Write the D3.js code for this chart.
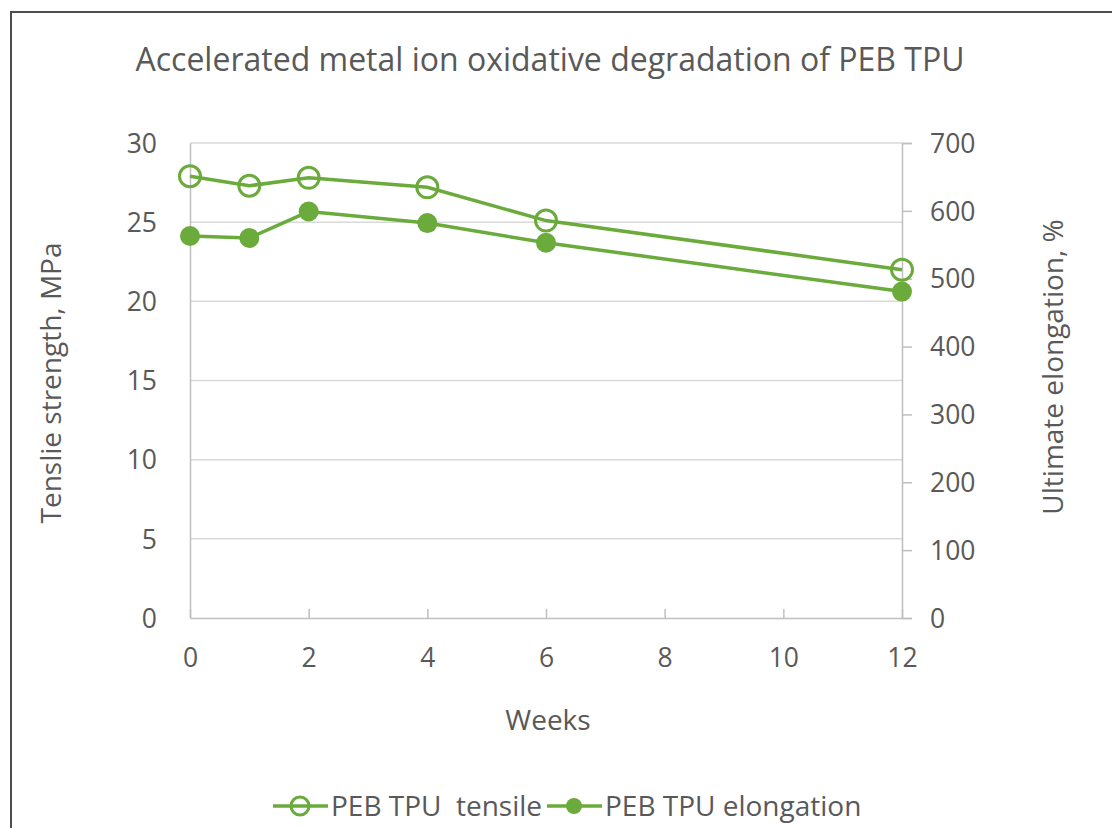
<!DOCTYPE html>
<html>
<head>
<meta charset="utf-8">
<script src="https://cdn.jsdelivr.net/npm/d3@7"></script>
<style>
  html, body { margin: 0; padding: 0; background: #ffffff; }
  svg { display: block; }
  text { font-family: "Open Sans", "Noto Sans", sans-serif; fill: #595959; }
</style>
</head>
<body>
<svg id="chart" width="1112" height="828"></svg>
<script>
// Weeks of exposure and measured properties
const weeks = [0, 1, 2, 4, 6, 12];
const tensile = [27.9, 27.3, 27.8, 27.2, 25.1, 22.0];      // MPa
const elongation = [563, 560, 599, 582, 553, 481];         // %

const xTicks = [0, 2, 4, 6, 8, 10, 12];
const leftTicks = [0, 5, 10, 15, 20, 25, 30];
const rightTicks = [0, 100, 200, 300, 400, 500, 600, 700];

const seriesNames = ["PEB TPU  tensile", "PEB TPU elongation"];
const titleText = "Accelerated metal ion oxidative degradation of PEB TPU";
const xTitle = "Weeks";
const yLeftTitle = "Tenslie strength, MPa";
const yRightTitle = "Ultimate elongation, %";

const green = "#6aab3c";
const gridColor = "#d9d9d9";
const axisColor = "#bfbfbf";
const tickFont = "26.5px";
const labelFont = "28px";

const svg = d3.select("#chart");

// chart frame
svg.append("rect")
  .attr("x", 11).attr("y", 12)
  .attr("width", 1200).attr("height", 900)
  .attr("fill", "#ffffff")
  .attr("stroke", "#4d4d4d").attr("stroke-width", 2);

const plot = { left: 190, right: 902, top: 143, bottom: 618 };

const x = d3.scaleLinear().domain([0, 12]).range([plot.left, plot.right]);
const yL = d3.scaleLinear().domain([0, 30]).range([plot.bottom, plot.top]);
const yR = d3.scaleLinear().domain([0, 700]).range([plot.bottom, plot.top]);

// horizontal gridlines
svg.append("g")
  .selectAll("line")
  .data(leftTicks.filter(d => d > 0))
  .join("line")
  .attr("x1", plot.left).attr("x2", plot.right)
  .attr("y1", d => yL(d)).attr("y2", d => yL(d))
  .attr("stroke", gridColor).attr("stroke-width", 1.5);

// left axis
const leftAxis = svg.append("g")
  .attr("transform", `translate(${plot.left},0)`)
  .call(d3.axisLeft(yL).tickValues(leftTicks).tickSize(0).tickPadding(33));
leftAxis.select(".domain").attr("stroke", axisColor).attr("stroke-width", 1.5);
leftAxis.selectAll("text").style("font-size", tickFont).style("font-family", "'Open Sans'").attr("fill", "#595959").attr("dy", "0.35em");

// right axis
const rightAxis = svg.append("g")
  .attr("transform", `translate(${plot.right},0)`)
  .call(d3.axisRight(yR).tickValues(rightTicks).tickSize(10).tickPadding(18));
rightAxis.select(".domain").attr("stroke", axisColor).attr("stroke-width", 1.5);
rightAxis.selectAll(".tick line").attr("stroke", axisColor).attr("stroke-width", 1.5);
rightAxis.selectAll("text").style("font-size", tickFont).style("font-family", "'Open Sans'").attr("fill", "#595959").attr("dy", "0.35em");

// bottom axis, ticks pointing into the plot
const bottomAxis = svg.append("g")
  .attr("transform", `translate(0,${plot.bottom})`)
  .call(d3.axisBottom(x).tickValues(xTicks).tickSizeInner(-9).tickSizeOuter(0).tickPadding(30));
bottomAxis.select(".domain").attr("stroke", axisColor).attr("stroke-width", 1.5);
bottomAxis.selectAll(".tick line").attr("stroke", axisColor).attr("stroke-width", 1.5);
bottomAxis.selectAll("text").style("font-size", tickFont).style("font-family", "'Open Sans'").attr("fill", "#595959");

// title and axis titles
svg.append("text")
  .attr("x", 550).attr("y", 71)
  .attr("text-anchor", "middle")
  .style("font-size", "32px")
  .text(titleText);

svg.append("text")
  .attr("x", 548).attr("y", 730)
  .attr("text-anchor", "middle")
  .style("font-size", labelFont)
  .text(xTitle);

svg.append("text")
  .attr("transform", "translate(61,383) rotate(-90)")
  .attr("text-anchor", "middle")
  .style("font-size", labelFont)
  .text(yLeftTitle);

svg.append("text")
  .attr("transform", "translate(1063,367) rotate(-90)")
  .attr("text-anchor", "middle")
  .style("font-size", labelFont)
  .text(yRightTitle);

// series
const tData = weeks.map((w, i) => ({ w, v: tensile[i] }));
const eData = weeks.map((w, i) => ({ w, v: elongation[i] }));

svg.append("path")
  .datum(eData)
  .attr("fill", "none").attr("stroke", green).attr("stroke-width", 3.5)
  .attr("d", d3.line().x(d => x(d.w)).y(d => yR(d.v)));
svg.append("g").selectAll("circle")
  .data(eData).join("circle")
  .attr("cx", d => x(d.w)).attr("cy", d => yR(d.v)).attr("r", 10)
  .attr("fill", green);

svg.append("path")
  .datum(tData)
  .attr("fill", "none").attr("stroke", green).attr("stroke-width", 3.5)
  .attr("d", d3.line().x(d => x(d.w)).y(d => yL(d.v)));
svg.append("g").selectAll("circle")
  .data(tData).join("circle")
  .attr("cx", d => x(d.w)).attr("cy", d => yL(d.v)).attr("r", 10.5)
  .attr("fill", "none").attr("stroke", green).attr("stroke-width", 3);

// legend
const legend = svg.append("g");
const legendItems = [
  { name: seriesNames[0], x: 273, open: true },
  { name: seriesNames[1], x: 547, open: false }
];
const ly = 806;
legendItems.forEach(item => {
  const g = legend.append("g").attr("transform", `translate(${item.x},${ly})`);
  g.append("line").attr("x1", 0).attr("x2", 55).attr("y1", 0).attr("y2", 0)
    .attr("stroke", green).attr("stroke-width", 3.5);
  if (item.open) {
    g.append("circle").attr("cx", 27).attr("cy", 0).attr("r", 9)
      .attr("fill", "none").attr("stroke", green).attr("stroke-width", 3);
  } else {
    g.append("circle").attr("cx", 27).attr("cy", 0).attr("r", 8).attr("fill", green);
  }
  g.append("text").attr("x", 58).attr("y", 0).attr("dy", "0.35em")
    .style("font-size", labelFont).style("white-space", "pre").attr("xml:space", "preserve")
    .text(item.name);
});
</script>
</body>
</html>
